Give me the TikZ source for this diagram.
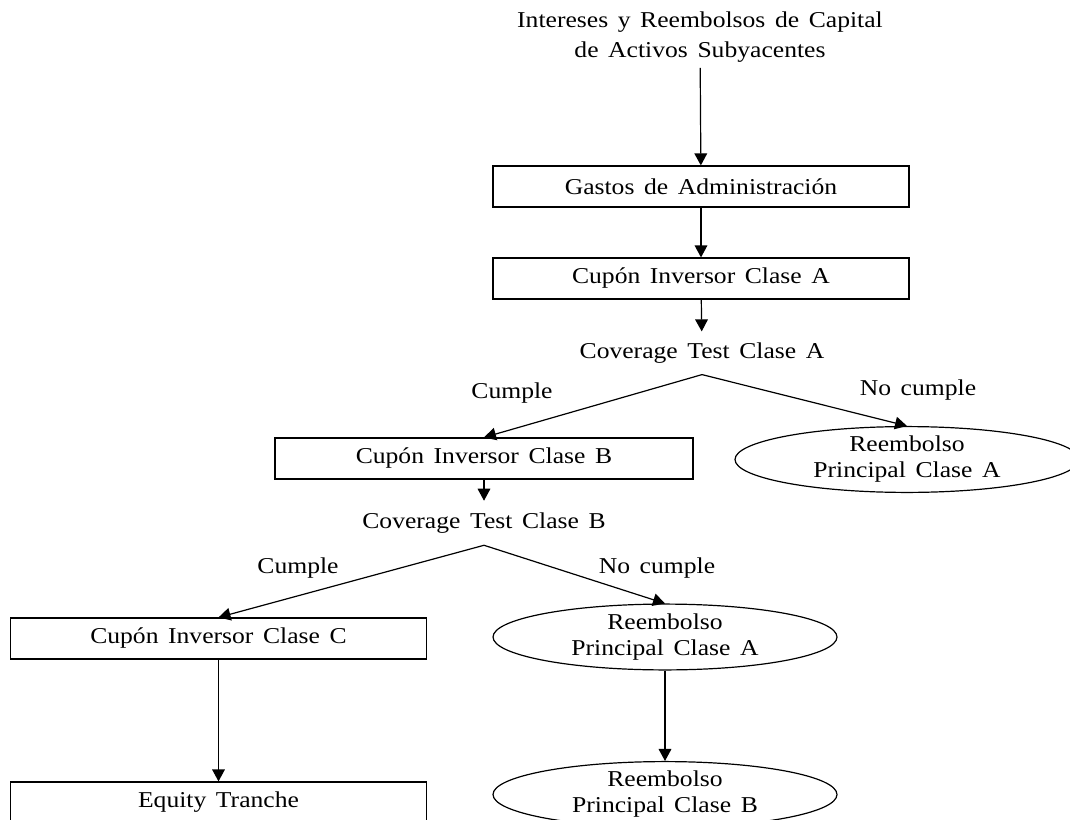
\documentclass[tikz,border=0pt]{standalone}
\usepackage{fontspec}
\setmainfont{Liberation Serif}[FakeStretch=1.13,WordSpace=1.5]
\usepackage{tikz}
\usetikzlibrary{arrows.meta,positioning,shapes.geometric}

\begin{document}
\begin{tikzpicture}[x=0.75pt,y=-0.75pt,>={Triangle[length=9pt,width=9.5pt]},
    every node/.style={font=\fontsize{17pt}{19.5pt}\selectfont,inner sep=0pt},
    flowbox/.style={draw,line width=0.9pt,minimum width=312pt,minimum height=30.75pt},
    payoff/.style={draw,ellipse,line width=0.9pt,align=center,minimum width=258pt,minimum height=39.75pt},
    testnode/.style={minimum height=32pt},
    flow/.style={->,line width=0.9pt}]
\clip (0,0) rectangle (1070,820);

% flujo principal
\node[align=center,font=\fontsize{17pt}{22.5pt}\selectfont,minimum height=46pt] (origen) at (700,37)
  {Intereses y Reembolsos de Capital\\de Activos Subyacentes};
\node[flowbox] (gastos) at (701,186.5) {Gastos de Administración};
\node[flowbox] (cuponA) at (701,278.5) {Cupón Inversor Clase A};
\node[testnode] (testA) at (702,353) {Coverage Test Clase A};

% rama clase A
\node[flowbox,minimum width=313.5pt] (cuponB) at (484,458.5) {Cupón Inversor Clase B};
\node[payoff] (reembA) at (907,459.5) {Reembolso\\Principal Clase A};
\node (cumpleA) at (512,393) {Cumple};
\node (nocumpleA) at (918,390) {No cumple};
\node[testnode,minimum height=33pt] (testB) at (484,523) {Coverage Test Clase B};

% rama clase B
\node[flowbox] (cuponC) at (218.5,638.5) {Cupón Inversor Clase C};
\node[payoff] (reembA2) at (665,637) {Reembolso\\Principal Clase A};
\node (cumpleB) at (298,568) {Cumple};
\node (nocumpleB) at (657,568) {No cumple};
\node[flowbox] (equity) at (218.5,802.5) {Equity Tranche};
\node[payoff] (reembB) at (665,794.5) {Reembolso\\Principal Clase B};

\draw[flow] (origen) -- (gastos);
\draw[flow] (gastos) -- (cuponA);
\draw[flow] (cuponA) -- (testA);
\draw[flow] (testA.south) -- (cuponB.north);
\draw[flow] (testA.south) -- (reembA.north);
\draw[flow] (cuponB) -- (testB);
\draw[flow] (testB.south) -- (cuponC.north);
\draw[flow] (testB.south) -- (reembA2.north);
\draw[flow] (cuponC) -- (equity);
\draw[flow] (reembA2) -- (reembB);
\end{tikzpicture}
\end{document}
